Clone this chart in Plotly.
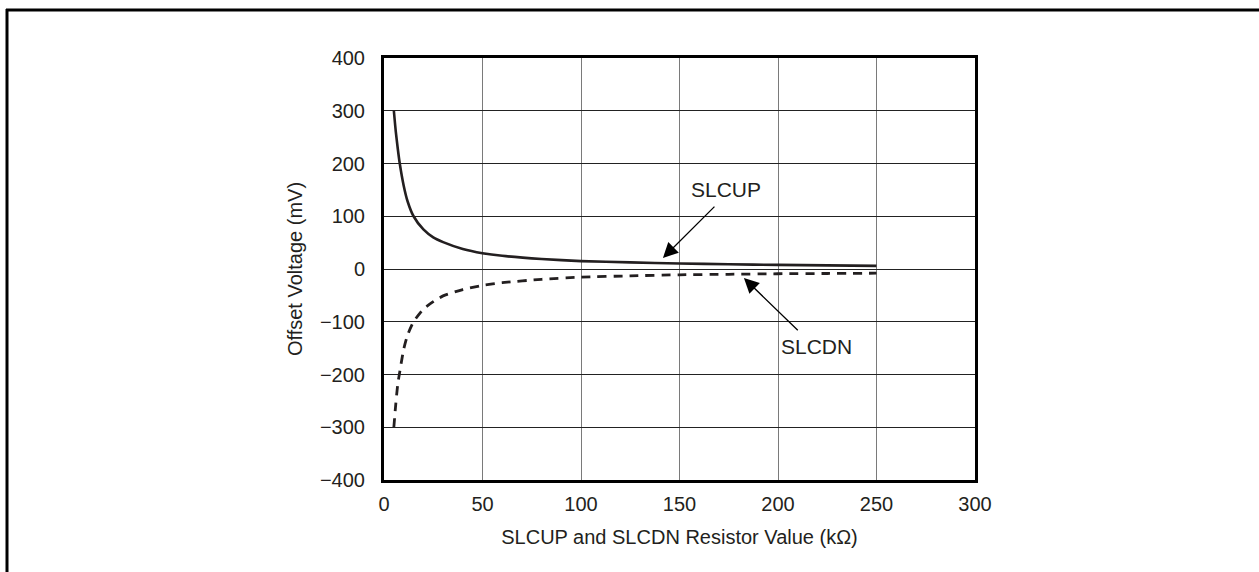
import plotly.graph_objects as go

# Data
resistance_kohm = [5, 6, 7, 8, 10, 12, 15, 20, 25, 30, 40, 50, 60, 80, 100, 125, 150, 175, 200, 225, 250]
slcup_mv = [300, 260, 228, 200, 158, 128, 100, 75, 60, 51, 38, 30, 25, 19, 15, 12.5, 10.5, 9, 7.8, 6.8, 6]
slcdn_mv = [-300, -255, -218, -195, -152, -125, -100, -76, -62, -51, -39, -31, -26, -19.5, -15.5, -13, -11, -10, -9, -8.5, -8]

x_ticks = [0, 50, 100, 150, 200, 250, 300]
y_ticks = [-400, -300, -200, -100, 0, 100, 200, 300, 400]
y_tick_text = ["\u2212400", "\u2212300", "\u2212200", "\u2212100", "0", "100", "200", "300", "400"]

FONT = "Liberation Sans, Arial, Helvetica, sans-serif"
INK = "#231f20"

W, H = 1259, 572
ML, MR, MT, MB = 384, 284, 58, 92
PW, PH = W - ML - MR, H - MT - MB

fig = go.Figure()
fig.add_trace(go.Scatter(x=resistance_kohm, y=slcup_mv, mode="lines", name="SLCUP",
                         line=dict(color=INK, width=2.6, shape="spline", smoothing=0.6)))
fig.add_trace(go.Scatter(x=resistance_kohm, y=slcdn_mv, mode="lines", name="SLCDN",
                         line=dict(color=INK, width=2.8, dash="9px,7px", shape="spline", smoothing=0.6)))

fig.update_layout(
    width=W, height=H,
    margin=dict(l=ML, r=MR, t=MT, b=MB),
    paper_bgcolor="white", plot_bgcolor="white",
    showlegend=False,
    font=dict(family=FONT, color=INK, size=20),
    xaxis=dict(range=[0, 300], tickvals=x_ticks, showgrid=True, gridcolor="#7a7a7a", gridwidth=1,
               zeroline=False, showline=True, linecolor="black", linewidth=3, mirror=True,
               ticks="", ticklabelstandoff=4, tickfont=dict(size=20),
               title=dict(text="SLCUP and SLCDN Resistor Value (k\u03a9)", font=dict(size=20), standoff=16)),
    yaxis=dict(range=[-400, 400], tickvals=y_ticks, ticktext=y_tick_text, showgrid=True,
               gridcolor="#222222", gridwidth=1.4, zeroline=False, showline=True, linecolor="black",
               linewidth=3, mirror=True, ticks="", ticklabelstandoff=12, tickfont=dict(size=20),
               title=dict(text="Offset Voltage (mV)", font=dict(size=20), standoff=12)),
)

# arrows
fig.add_annotation(x=141.6, y=21, ax=168.5, ay=121, axref="x", ayref="y", xref="x", yref="y",
                   text="", showarrow=True, arrowhead=2, arrowsize=2.3, arrowwidth=1.3, arrowcolor="black")
fig.add_annotation(x=182.7, y=-17, ax=210.8, ay=-119, axref="x", ayref="y", xref="x", yref="y",
                   text="", showarrow=True, arrowhead=2, arrowsize=2.3, arrowwidth=1.3, arrowcolor="black")
# labels
fig.add_annotation(x=173.6, y=150, text="SLCUP", showarrow=False, font=dict(size=21, color=INK))
fig.add_annotation(x=219.3, y=-146, text="SLCDN", showarrow=False, font=dict(size=21, color=INK))

# page frame (top and left lines)
def px_to_paper_x(px):
    return (px - ML) / PW

def py_to_paper_y(py):
    return (H - MB - py) / PH

fig.add_shape(type="line", xref="paper", yref="paper",
              x0=px_to_paper_x(6), x1=px_to_paper_x(1259), y0=py_to_paper_y(10), y1=py_to_paper_y(10),
              line=dict(color="black", width=3))
fig.add_shape(type="line", xref="paper", yref="paper",
              x0=px_to_paper_x(7), x1=px_to_paper_x(7), y0=py_to_paper_y(9), y1=py_to_paper_y(572),
              line=dict(color="black", width=3))

fig.write_html("out.html")
